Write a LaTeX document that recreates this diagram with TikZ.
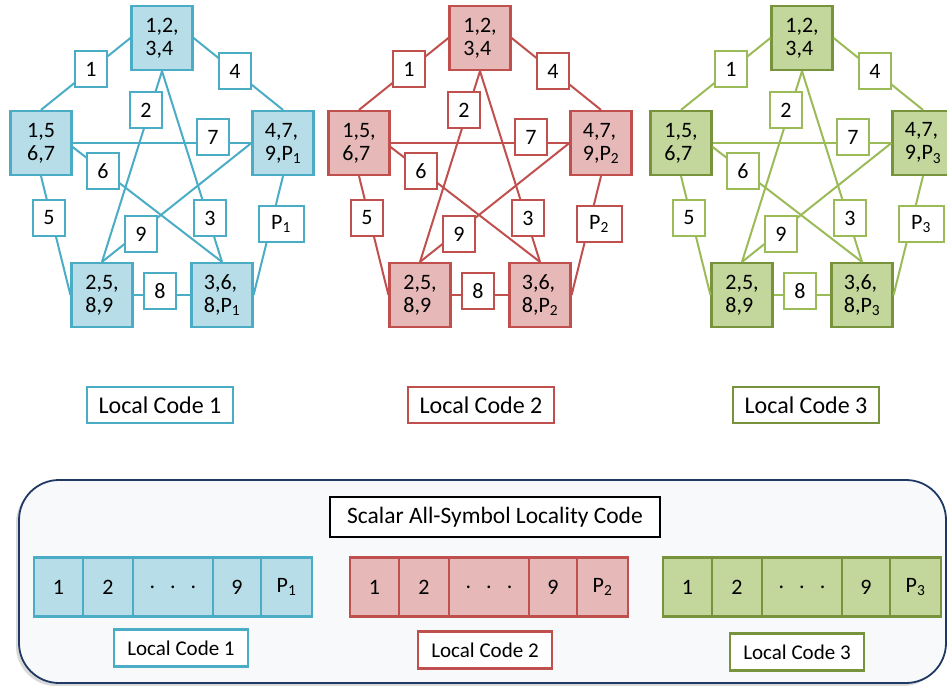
\documentclass[tikz,border=0pt]{standalone}
\usepackage{fontspec}
\setmainfont{Carlito}
\definecolor{bL}{HTML}{4BACC6}
\definecolor{bF}{HTML}{B7DEE8}
\definecolor{bB}{HTML}{4BACC6}
\definecolor{rL}{HTML}{C0504D}
\definecolor{rF}{HTML}{E6B9B8}
\definecolor{rB}{HTML}{C0504D}
\definecolor{gL}{HTML}{9BBB59}
\definecolor{gF}{HTML}{C3D69B}
\definecolor{gB}{HTML}{77933C}
\definecolor{navy}{HTML}{1F3864}
\definecolor{panel}{HTML}{F8F9FB}
\newcommand{\Ps}[1]{P\textsubscript{#1}}
\tikzset{
  bignode/.style={draw=#1, line width=2.2pt, minimum width=61pt, minimum height=64pt, inner sep=0pt, align=left, font=\fontsize{22}{23}\selectfont},
  smallbox/.style={draw=#1, fill=white, line width=2pt, minimum width=32pt, minimum height=36pt, inner sep=0pt, font=\fontsize{22}{24}\selectfont},
  edge/.style={draw=#1, line width=2pt},
  lclabel/.style={draw=#1, fill=white, line width=2.4pt, minimum width=146pt, minimum height=36pt, inner sep=0pt, font=\fontsize{24}{26}\selectfont},
  cell/.style={draw=#1, line width=2.2pt, minimum height=59pt, inner sep=0pt, outer sep=0pt, anchor=west, font=\fontsize{22}{24}\selectfont},
  lcsmall/.style={draw=#1, fill=white, line width=2.2pt, minimum width=134pt, minimum height=37pt, inner sep=0pt, font=\fontsize{21}{24}\selectfont}
}
% #1 suffix, #2 xshift, #3 line col, #4 fill, #5 border, #6 subscript, #7 text of left node
\newcommand{\pentgraph}[7]{
\begin{scope}[xshift=#2pt]
  \node[bignode=#5, fill=#4] (T#1) at (162,38) {1,2,\\3,4};
  \node[bignode=#5, fill=#4] (L#1) at (41,143) {#7};
  \node[bignode=#5, fill=#4] (R#1) at (283,143) {4,7,\\9,\Ps{#6}};
  \node[bignode=#5, fill=#4] (BL#1) at (102,295) {2,5,\\8,9};
  \node[bignode=#5, fill=#4] (BR#1) at (222,295) {3,6,\\8,\Ps{#6}};
  \begin{scope}[edge=#3]
    \draw (T#1.west) -- (L#1.north);
    \draw (T#1.east) -- (R#1.north);
    \draw (T#1.south) -- (BL#1.north);
    \draw (T#1.south) -- (BR#1.north);
    \draw (L#1.east) -- (R#1.west);
    \draw ([yshift=-4pt]L#1.east) -- (BR#1.north);
    \draw (R#1.west) -- (BL#1.north);
    \draw (L#1.south) -- (BL#1.west);
    \draw (R#1.south) -- (BR#1.east);
    \draw (BL#1.east) -- (BR#1.west);
  \end{scope}
  \node[smallbox=#3] (e1#1) at (91,69) {1};
  \node[smallbox=#3] (e4#1) at (235,71) {4};
  \node[smallbox=#3] (e2#1) at (146,110) {2};
  \node[smallbox=#3] (e7#1) at (213,137) {7};
  \node[smallbox=#3] (e6#1) at (103,171) {6};
  \node[smallbox=#3] (e5#1) at (49,218) {5};
  \node[smallbox=#3] (e3#1) at (210,218) {3};
  \node[smallbox=#3, minimum width=45pt] (eP#1) at (281,224) {\Ps{#6}};
  \node[smallbox=#3] (e9#1) at (141,234) {9};
  \node[smallbox=#3] (e8#1) at (160,291) {8};
\end{scope}
}
% bar: #1 suffix, #2 x0, #3 fill, #4 border, #5 subscript
\newcommand{\codebar}[5]{
  \node[cell=#4, fill=#3, minimum width=49pt] (c1#1) at (#2,587) {1};
  \node[cell=#4, fill=#3, minimum width=50pt] (c2#1) at (c1#1.east) {2};
  \node[cell=#4, fill=#3, minimum width=80pt] (c3#1) at (c2#1.east) {.\hspace{15pt}.\hspace{15pt}.};
  \node[cell=#4, fill=#3, minimum width=48pt] (c4#1) at (c3#1.east) {9};
  \node[cell=#4, fill=#3, minimum width=51pt] (c5#1) at (c4#1.east) {\Ps{#5}};
}
\begin{document}
\begin{tikzpicture}[x=1pt, y=-1pt]
\useasboundingbox (0,0) rectangle (947,685);
\pentgraph{a}{0}{bL}{bF}{bB}{1}{1,5\\6,7}
\pentgraph{b}{318}{rL}{rF}{rB}{2}{1,5,\\6,7}
\pentgraph{c}{640}{gL}{gF}{gB}{3}{1,5,\\6,7}
\node[lclabel=bL] (lc1) at (160,405) {Local Code 1};
\node[lclabel=rL] (lc2) at (481,405) {Local Code 2};
\node[lclabel=gB] (lc3) at (806,405) {Local Code 3};
% panel
\fill[black!15, rounded corners=40pt] (16,483) rectangle (943,686);
\draw[navy, fill=panel, line width=1.8pt, rounded corners=40pt] (19,480) rectangle (946,683);
\node[draw=black, fill=white, line width=2.4pt, minimum width=330pt, minimum height=40pt, inner sep=0pt, font=\fontsize{23.5}{26}\selectfont] (title) at (495,517) {Scalar All-Symbol Locality Code};
\codebar{a}{34}{bF}{bB}{1}
\codebar{b}{350}{rF}{rB}{2}
\codebar{c}{663}{gF}{gB}{3}
\node[lcsmall=bL] (s1) at (181,648) {Local Code 1};
\node[lcsmall=rL] (s2) at (485,650) {Local Code 2};
\node[lcsmall=gB] (s3) at (797,652) {Local Code 3};
\end{tikzpicture}
\end{document}
